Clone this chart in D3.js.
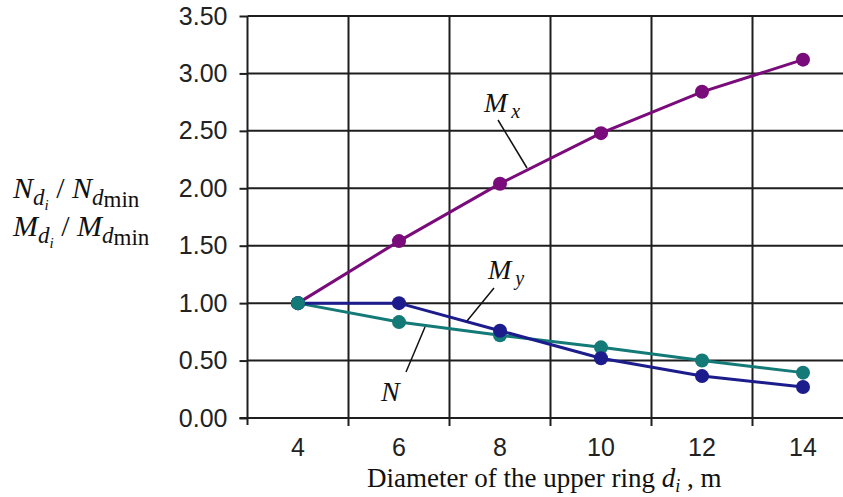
<!DOCTYPE html>
<html>
<head>
<meta charset="utf-8">
<script src="https://cdn.jsdelivr.net/npm/d3@7"></script>
<style>
  body { margin: 0; background: #fff; overflow: hidden; }
  svg { display: block; }
</style>
</head>
<body>
<div id="chart"></div>
<script>
// diameter of the upper ring, m
var diameters = [4, 6, 8, 10, 12, 14];
// ratios
var mxValues = [1.00, 1.54, 2.04, 2.48, 2.84, 3.12];
var myValues = [1.00, 1.00, 0.76, 0.52, 0.365, 0.27];
var nValues  = [1.00, 0.835, 0.72, 0.615, 0.50, 0.395];

var yTicks = [0, 0.5, 1, 1.5, 2, 2.5, 3, 3.5];
var xLabels = [4, 6, 8, 10, 12, 14];
var xGrid = [5, 7, 9, 11, 13];

const width = 843, height = 497;

const x = d3.scaleLinear().domain([3, 15]).range([247.5, 853.5]);
const y = d3.scaleLinear().domain([0, 3.5]).range([418, 16]);

const svg = d3.select('#chart')
  .append('svg')
    .attr('width', width)
    .attr('height', height);

// horizontal grid
svg.append('g')
  .selectAll('line')
  .data(yTicks.filter(function(d) { return d > 0; }))
  .join('line')
    .attr('x1', x(3)).attr('x2', width)
    .attr('y1', function(d) { return y(d); })
    .attr('y2', function(d) { return y(d); })
    .attr('stroke', '#1e1e1e')
    .attr('stroke-width', 2);

// vertical grid (odd values) with small ticks under the axis
svg.append('g')
  .selectAll('line')
  .data(xGrid)
  .join('line')
    .attr('x1', function(d) { return x(d); })
    .attr('x2', function(d) { return x(d); })
    .attr('y1', y(3.5)).attr('y2', y(0) + 8)
    .attr('stroke', '#1e1e1e')
    .attr('stroke-width', 2);

// x axis line
svg.append('line')
  .attr('x1', x(3) - 8).attr('x2', width)
  .attr('y1', y(0)).attr('y2', y(0))
  .attr('stroke', '#1e1e1e').attr('stroke-width', 2);

// y axis
const yAxis = svg.append('g')
  .attr('transform', 'translate(' + x(3) + ',0)')
  .call(d3.axisLeft(y).tickValues(yTicks).tickSize(8).tickPadding(12)
    .tickFormat(d3.format('.2f')));
yAxis.select('.domain').remove();
yAxis.append('line')
  .attr('y1', y(3.5)).attr('y2', y(0) + 7)
  .attr('stroke', '#1e1e1e').attr('stroke-width', 2);
yAxis.selectAll('.tick line').attr('stroke', '#1e1e1e').attr('stroke-width', 2);
yAxis.selectAll('.tick text')
  .attr('font-family', 'Liberation Sans, Arial, sans-serif')
  .attr('font-size', 25)
  .attr('fill', '#222');

// x tick labels (even values, no grid)
svg.append('g')
  .selectAll('text')
  .data(xLabels)
  .join('text')
    .attr('x', function(d) { return x(d); })
    .attr('y', 456)
    .attr('text-anchor', 'middle')
    .attr('font-family', 'Liberation Sans, Arial, sans-serif')
    .attr('font-size', 25)
    .attr('fill', '#222')
    .text(function(d) { return d; });

// series
const series = [
  { name: 'Mx', values: mxValues, color: '#7a0b7a' },
  { name: 'N',  values: nValues,  color: '#137a77' },
  { name: 'My', values: myValues, color: '#1c1c8c' }
];

const line = d3.line()
  .x(function(d) { return x(d[0]); })
  .y(function(d) { return y(d[1]); });

series.forEach(function(s) {
  var pts = diameters.map(function(d, i) { return [d, s.values[i]]; });
  svg.append('path')
    .datum(pts)
    .attr('d', line)
    .attr('fill', 'none')
    .attr('stroke', s.color)
    .attr('stroke-width', 3);
  svg.append('g')
    .selectAll('circle')
    .data(pts)
    .join('circle')
      .attr('cx', function(d) { return x(d[0]); })
      .attr('cy', function(d) { return y(d[1]); })
      .attr('r', 7)
      .attr('fill', s.color);
});
// N marker sits on top at d = 4
svg.append('circle')
  .attr('cx', x(4)).attr('cy', y(1)).attr('r', 7).attr('fill', '#137a77');

// curve labels with leader lines
function curveLabel(lx, ly, main, sub, x1, y1, x2, y2) {
  svg.append('line')
    .attr('x1', x1).attr('y1', y1).attr('x2', x2).attr('y2', y2)
    .attr('stroke', '#111').attr('stroke-width', 1.5);
  var t = svg.append('text')
    .attr('x', lx).attr('y', ly)
    .attr('font-family', 'Liberation Serif, Times New Roman, serif')
    .attr('font-style', 'italic')
    .attr('font-size', 28)
    .attr('fill', '#111');
  t.append('tspan').text(main);
  if (sub) {
    t.append('tspan').attr('dx', 4).attr('dy', 6).attr('font-size', 20).text(sub);
  }
}
curveLabel(484, 112, 'M', 'x', 498, 120, 527, 168);
curveLabel(488, 279, 'M', 'y', 494, 288, 467, 321);
curveLabel(381, 401, 'N', null, 425, 327, 406, 372);

// y axis title, two lines
function ratioLabel(ly, letter) {
  var t = svg.append('text')
    .attr('x', 13).attr('y', ly)
    .attr('font-family', 'Liberation Serif, Times New Roman, serif')
    .attr('font-size', 30)
    .attr('fill', '#111')
    .attr('xml:space', 'preserve')
    .style('white-space', 'pre');
  t.append('tspan').attr('font-style', 'italic').text(letter);
  t.append('tspan').attr('font-style', 'italic').attr('font-size', 23).attr('dy', 7).text('d');
  t.append('tspan').attr('font-style', 'italic').attr('font-size', 15).attr('dy', 5).text('i');
  t.append('tspan').attr('dy', -12).text(' / ');
  t.append('tspan').attr('font-style', 'italic').text(letter);
  t.append('tspan').attr('font-style', 'italic').attr('font-size', 23).attr('dy', 7).text('d');
  t.append('tspan').attr('font-size', 23).attr('dy', 2).text('min');
}
ratioLabel(198, 'N');
ratioLabel(236, 'M');

// x axis title
var xt = svg.append('text')
  .attr('x', 367).attr('y', 487)
  .attr('font-family', 'Liberation Serif, Times New Roman, serif')
  .attr('font-size', 27)
  .attr('fill', '#111');
xt.append('tspan').text('Diameter of the upper ring  ');
xt.append('tspan').attr('font-style', 'italic').text('d');
xt.append('tspan').attr('font-style', 'italic').attr('font-size', 18).attr('dy', 5).text('i');
xt.append('tspan').attr('dy', -5).text(' , m');
</script>
</body>
</html>
